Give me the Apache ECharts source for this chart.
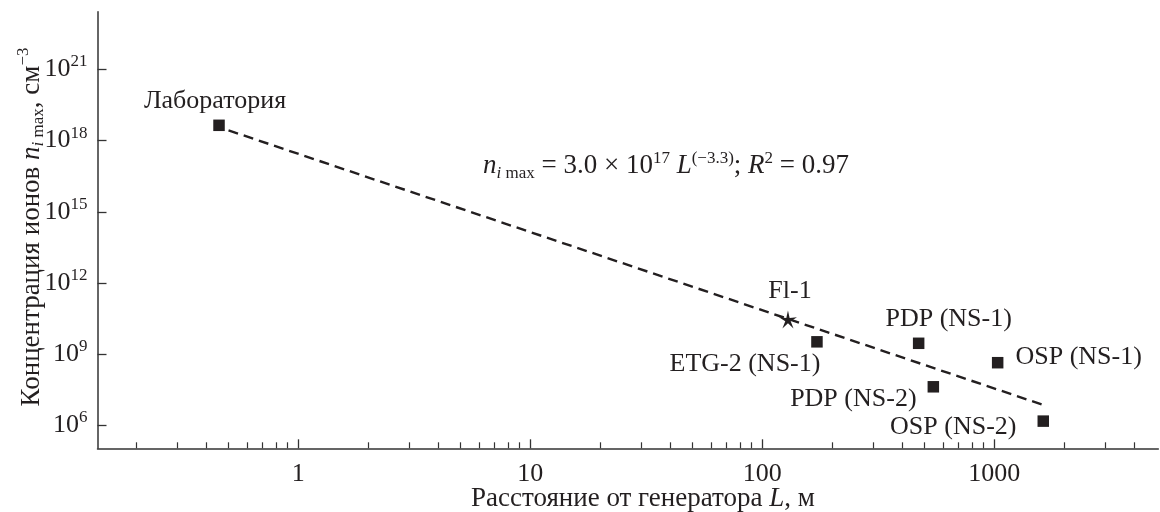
<!DOCTYPE html>
<html>
<head>
<meta charset="utf-8">
<script src="https://cdn.jsdelivr.net/npm/echarts@6/dist/echarts.min.js"></script>
<style>
html,body{margin:0;padding:0;background:#fff;}
#chart{width:1160px;height:512px;}
</style>
</head>
<body>
<div id="chart"></div>
<script>
// ---- data ----
const pointNames = ['Лаборатория', 'Fl-1', 'ETG-2 (NS-1)', 'PDP (NS-1)', 'OSP (NS-1)', 'PDP (NS-2)', 'OSP (NS-2)'];
const pointL = [0.455, 129, 172, 472, 1034, 546, 1626];
const pointN = [4.4e18, 2.9e10, 3.3e9, 2.86e9, 4.35e8, 4.2e7, 1.5e6];
const fitL = [0.5, 1620];
const fitN = [2.7e18, 7.3e6];
const xTickValues = [1, 10, 100, 1000];
const xMinorTickValues = [0.2, 0.3, 0.4, 0.5, 0.6, 0.7, 0.8, 0.9, 2, 3, 4, 5, 6, 7, 8, 9, 20, 30, 40, 50, 60, 70, 80, 90, 200, 300, 400, 500, 600, 700, 800, 900, 2000, 3000, 4000];
const yTickValues = [1e6, 1e9, 1e12, 1e15, 1e18, 1e21];
const xRange = [0.1362, 5093];
const yRange = [1.074e5, 2.7e23];

// ---- layout / style ----
const FONT = '"Liberation Serif", "Times New Roman", serif';
const INK = '#231f20';
const LBL = 26;
const TTL = 27;
const labelOffsets = {
  'Лаборатория': [-4, -24],
  'Fl-1': [2, -28],
  'ETG-2 (NS-1)': [-72, 22],
  'PDP (NS-1)': [30, -24],
  'OSP (NS-1)': [81, -6],
  'PDP (NS-2)': [-80, 12],
  'OSP (NS-2)': [-90, 6]
};
const STAR = 'path://M50 0 L58.8 37.9 L97.6 34.5 L64.3 54.6 L79.4 90.5 L50 65 L20.6 90.5 L35.7 54.6 L2.4 34.5 L41.2 37.9 Z';

const scatterData = pointNames.map((name, i) => ({
  name: name,
  value: [pointL[i], pointN[i]],
  symbol: name === 'Fl-1' ? STAR : 'rect',
  symbolSize: name === 'Fl-1' ? 18 : 11.5,
  label: {
    show: true,
    position: 'inside',
    offset: labelOffsets[name],
    formatter: name
  }
}));

const fitData = fitL.map((l, i) => [l, fitN[i]]);

const chart = echarts.init(document.getElementById('chart'), null, {renderer: 'canvas'});

const axisLineStyle = {color: '#333', width: 1.5};

const option = {
  animation: false,
  backgroundColor: '#fff',
  grid: {left: 97.5, right: 1.7, top: 11.7, bottom: 63.7, containLabel: false, outerBoundsMode: 'none'},
  xAxis: [
    {
      type: 'log', logBase: 10, min: xRange[0], max: xRange[1],
      position: 'bottom',
      axisLine: {show: true, onZero: false, lineStyle: axisLineStyle},
      axisTick: {show: true, inside: true, length: 9, customValues: xTickValues, lineStyle: {color: '#333', width: 1.3}},
      axisLabel: {
        show: true, customValues: xTickValues, margin: 13,
        fontFamily: FONT, fontSize: LBL, color: INK,
        formatter: v => String(Math.round(v))
      },
      splitLine: {show: false},
      name: '{a|Расстояние от генератора }{i|L}{a|, м}',
      nameLocation: 'middle', nameGap: 37, nameMoveOverlap: false,
      nameTextStyle: {
        fontFamily: FONT, fontSize: TTL, color: INK, padding: [0, 0, 0, 30],
        rich: {
          a: {fontFamily: FONT, fontSize: TTL, color: INK},
          i: {fontFamily: FONT, fontSize: TTL, color: INK, fontStyle: 'italic'}
        }
      }
    },
    {
      type: 'log', logBase: 10, min: xRange[0], max: xRange[1],
      position: 'bottom',
      axisLine: {show: false},
      axisTick: {show: true, inside: true, length: 6, customValues: xMinorTickValues, lineStyle: {color: '#333', width: 1.2}},
      axisLabel: {show: false},
      splitLine: {show: false}
    }
  ],
  yAxis: {
    type: 'log', logBase: 10, min: yRange[0], max: yRange[1],
    axisLine: {show: true, onZero: false, lineStyle: axisLineStyle},
    axisTick: {show: true, inside: true, length: 9, customValues: yTickValues, lineStyle: {color: '#333', width: 1.3}},
    axisLabel: {
      show: true, customValues: yTickValues, margin: 10,
      formatter: v => '{b|10}{s|' + Math.round(Math.log10(v)) + '}',
      rich: {
        b: {fontFamily: FONT, fontSize: LBL, color: INK, lineHeight: 32},
        s: {fontFamily: FONT, fontSize: 17, color: INK, lineHeight: 17, verticalAlign: 'top'}
      }
    },
    splitLine: {show: false},
    name: '{a|Концентрация ионов }{n|n}{si|i}{sm| max}{a|, см}{sp|−3}',
    nameLocation: 'middle', nameGap: 50, nameRotate: 90, nameMoveOverlap: false,
    nameTextStyle: {
      fontFamily: FONT, fontSize: TTL, color: INK, padding: [0, 0, 0, 6],
      rich: {
        a: {fontFamily: FONT, fontSize: TTL, color: INK, lineHeight: 32},
        n: {fontFamily: FONT, fontSize: TTL, color: INK, fontStyle: 'italic', lineHeight: 32},
        si: {fontFamily: FONT, fontSize: 17, color: INK, fontStyle: 'italic', lineHeight: 17, verticalAlign: 'bottom'},
        sm: {fontFamily: FONT, fontSize: 17, color: INK, lineHeight: 17, verticalAlign: 'bottom'},
        sp: {fontFamily: FONT, fontSize: 17, color: INK, lineHeight: 17, verticalAlign: 'top'}
      }
    }
  },
  series: [
    {
      type: 'line',
      xAxisIndex: 0,
      data: fitData,
      symbol: 'none',
      silent: true,
      lineStyle: {color: INK, width: 2.4, type: [10, 6]},
      z: 2
    },
    {
      type: 'scatter',
      xAxisIndex: 0,
      data: scatterData,
      itemStyle: {color: INK, opacity: 1},
      label: {
        color: INK, fontFamily: FONT, fontSize: LBL
      },
      z: 3
    }
  ],
  graphic: [
    {
      type: 'text',
      left: 483, top: 150,
      style: {
        text: '{n|n}{si|i}{sm| max}{a| = 3.0 × 10}{sp|17}{a| }{n|L}{sp|(−3.3)}{a|; }{n|R}{sp|2}{a| = 0.97}',
        rich: {
          a: {fontFamily: FONT, fontSize: TTL, fill: INK, lineHeight: 32},
          n: {fontFamily: FONT, fontSize: TTL, fill: INK, fontStyle: 'italic', lineHeight: 32},
          si: {fontFamily: FONT, fontSize: 17, fill: INK, fontStyle: 'italic', lineHeight: 17, verticalAlign: 'bottom'},
          sm: {fontFamily: FONT, fontSize: 17, fill: INK, lineHeight: 17, verticalAlign: 'bottom'},
          sp: {fontFamily: FONT, fontSize: 17, fill: INK, lineHeight: 17, verticalAlign: 'top'}
        }
      }
    }
  ]
};
chart.setOption(option);
</script>
</body>
</html>
